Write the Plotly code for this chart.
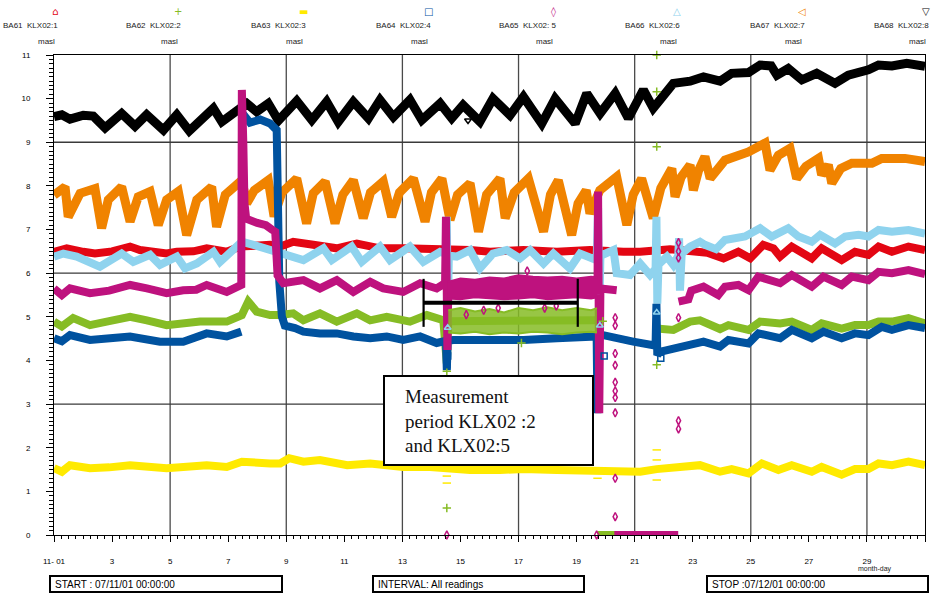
import plotly.graph_objects as go

# ---------------- readings: (day of November, level in masl) ----------------
klx1 = [(1.0, 6.49), (1.44, 6.57), (2.01, 6.49), (2.41, 6.45), (3.0, 6.5), (3.62, 6.61), (3.96, 6.53),
        (4.88, 6.45), (5.23, 6.49), (5.8, 6.5), (6.26, 6.57), (6.95, 6.49), (7.41, 6.61), (7.75, 6.62),
        (8.44, 6.65), (8.79, 6.61), (9.24, 6.72), (9.93, 6.65), (10.74, 6.57), (11.43, 6.68), (12.23, 6.57),
        (13.03, 6.57), (13.72, 6.57), (14.53, 6.53), (15.33, 6.53), (16.02, 6.49), (17.17, 6.53),
        (18.32, 6.49), (19.46, 6.53), (20.61, 6.49), (21.19, 6.49), (22.22, 6.55), (22.91, 6.49),
        (23.5, 6.47), (24.06, 6.34), (24.57, 6.49), (24.98, 6.34), (25.43, 6.65), (25.78, 6.57),
        (26.01, 6.38), (26.41, 6.61), (27.1, 6.34), (27.44, 6.57), (28.13, 6.30), (28.59, 6.49),
        (29.05, 6.42), (29.4, 6.61), (29.86, 6.49), (30.43, 6.61), (31.0, 6.53)]

klx2 = [(1.0, 4.89), (1.27, 4.78), (1.66, 4.97), (2.24, 4.81), (2.9, 4.9), (3.62, 5.0), (4.2, 4.92),
        (4.88, 4.81), (6.03, 4.89), (6.95, 4.89), (7.47, 5.04), (7.69, 5.35), (7.98, 5.12), (8.44, 5.04),
        (8.79, 5.04), (9.24, 5.08), (9.59, 4.92), (10.16, 5.08), (10.74, 4.89), (11.43, 5.08), (11.89, 4.92),
        (12.46, 5.0), (13.26, 4.89), (13.84, 5.04), (14.41, 4.92), (14.53, 3.93), (14.58, 4.9), (17.0, 4.92),
        (19.7, 4.92), (None, None), (19.72, 0.0), (20.33, 0.0), (None, None),
        (21.76, 4.73), (22.33, 4.7), (22.91, 4.89), (23.25, 4.92), (23.94, 4.72), (24.23, 4.81),
        (24.92, 4.7), (25.32, 4.89), (26.01, 4.85), (26.41, 4.89), (27.1, 4.7), (27.44, 4.85),
        (28.13, 4.73), (28.59, 4.81), (29.05, 4.81), (29.4, 4.89), (29.86, 4.89), (30.43, 4.97), (31.0, 4.85)]

klx3 = [(1.0, 1.53), (1.27, 1.45), (1.55, 1.6), (2.24, 1.53), (2.9, 1.55), (3.62, 1.6), (4.88, 1.53),
        (5.68, 1.56), (6.26, 1.6), (6.95, 1.56), (7.47, 1.68), (8.44, 1.64), (8.79, 1.64), (9.1, 1.76),
        (9.59, 1.68), (10.16, 1.72), (11.1, 1.6), (11.89, 1.64), (13.03, 1.56), (13.95, 1.56), (14.53, 1.53),
        (15.33, 1.49), (16.36, 1.49), (17.17, 1.51), (18.32, 1.49), (19.46, 1.49), (19.81, 1.45),
        (20.61, 1.45), (21.19, 1.45), (21.76, 1.51), (22.33, 1.56), (23.25, 1.6), (23.94, 1.45),
        (24.34, 1.51), (24.92, 1.41), (25.38, 1.64), (25.95, 1.49), (26.41, 1.6), (27.1, 1.45),
        (27.44, 1.56), (28.13, 1.38), (28.59, 1.51), (29.05, 1.51), (29.4, 1.64), (29.86, 1.6),
        (30.43, 1.68), (31.0, 1.6)]

klx4 = [(1.0, 4.51), (1.27, 4.44), (1.55, 4.58), (2.24, 4.47), (2.93, 4.51), (3.62, 4.55), (4.65, 4.43),
        (5.45, 4.43), (6.26, 4.62), (6.95, 4.55), (7.45, 4.66), (None, None),
        (7.45, 9.7), (7.75, 9.45), (8.1, 9.52), (8.44, 9.43), (8.67, 9.28), (8.7, 7.5), (8.76, 5.8),
        (8.85, 5.0), (8.95, 4.8), (9.3, 4.74), (9.59, 4.66), (10.16, 4.62), (10.74, 4.62), (11.31, 4.55),
        (11.89, 4.51), (12.46, 4.55), (13.03, 4.47), (13.61, 4.55), (14.18, 4.4), (14.5, 4.45),
        (14.53, 3.78), (14.56, 4.45), (14.75, 4.47), (15.33, 4.47), (15.91, 4.43), (16.36, 4.47),
        (17.17, 4.47), (18.32, 4.51), (19.46, 4.55), (19.69, 4.55), (19.72, 2.79), (19.76, 4.58),
        (19.92, 4.58), (20.61, 4.51), (20.95, 4.43), (21.64, 4.35), (21.72, 4.35), (21.75, 5.3),
        (21.78, 4.12), (21.87, 4.2), (22.33, 4.28), (22.91, 4.39), (23.37, 4.43), (23.94, 4.32),
        (24.23, 4.47), (24.92, 4.39), (25.26, 4.62), (26.01, 4.51), (26.41, 4.7), (27.1, 4.51),
        (27.5, 4.66), (28.13, 4.51), (28.59, 4.62), (29.05, 4.58), (29.51, 4.77), (29.86, 4.7),
        (30.43, 4.81), (31.0, 4.74)]

klx5 = [(1.0, 5.65), (1.27, 5.5), (1.55, 5.65), (2.24, 5.54), (2.9, 5.6), (3.62, 5.73), (4.2, 5.65),
        (4.88, 5.54), (5.45, 5.61), (5.9, 5.62), (6.26, 5.73), (6.95, 5.57), (7.45, 5.73), (7.47, 10.2),
        (7.52, 9.0), (7.56, 7.6), (7.62, 7.25), (8.0, 7.15), (8.3, 7.1), (8.5, 7.0), (8.62, 6.95),
        (8.7, 5.95), (8.9, 5.77), (9.59, 5.84), (10.16, 5.65), (10.74, 5.84), (11.31, 5.57), (11.89, 5.8),
        (12.34, 5.65), (13.03, 5.57), (13.61, 5.77), (14.18, 5.65), (14.47, 5.77), (14.5, 7.29),
        (14.55, 4.24), (14.58, 5.6), (17.0, 5.65), (19.72, 5.6), (19.74, 7.87), (19.78, 2.79),
        (19.82, 5.65), (20.38, 5.61), (None, None), (20.3, 0.0), (22.5, 0.0), (None, None),
        (22.51, 5.35), (22.85, 5.4), (22.95, 5.6), (23.37, 5.69), (23.88, 5.5), (24.11, 5.69),
        (24.57, 5.73), (24.92, 5.61), (25.26, 5.92), (25.72, 5.84), (26.01, 5.77), (26.41, 5.96),
        (26.76, 5.84), (27.1, 5.69), (27.5, 5.92), (28.13, 5.73), (28.48, 5.92), (29.05, 5.84),
        (29.4, 6.03), (29.86, 6.0), (30.43, 6.07), (31.0, 5.98)]

klx6 = [(1.0, 6.38), (1.32, 6.45), (1.78, 6.38), (2.58, 6.15), (3.33, 6.45), (3.73, 6.26), (4.31, 6.42),
        (4.65, 6.19), (5.23, 6.38), (5.51, 6.11), (5.92, 6.22), (6.49, 6.49), (6.72, 6.26), (7.47, 6.72),
        (7.87, 6.65), (8.44, 6.53), (8.79, 6.5), (9.59, 6.3), (10.28, 6.57), (10.57, 6.3), (11.25, 6.61),
        (11.6, 6.26), (12.23, 6.61), (12.57, 6.3), (13.26, 6.61), (13.72, 6.26), (14.3, 6.49), (14.5, 6.45),
        (14.53, 7.29), (14.56, 4.9), (14.6, 6.4), (14.87, 6.38), (15.33, 6.53), (15.67, 6.11), (16.12, 6.45),
        (16.59, 6.53), (17.05, 6.34), (17.4, 6.53), (17.86, 6.22), (18.2, 6.45), (18.77, 6.11),
        (19.12, 6.45), (19.69, 6.3), (19.74, 7.5), (19.78, 5.0), (19.82, 6.4), (20.27, 6.53), (20.38, 6.0),
        (20.84, 5.96), (21.19, 6.22), (21.53, 5.96), (21.72, 6.1), (21.75, 7.29), (21.78, 5.3),
        (21.82, 6.2), (22.11, 6.38), (22.33, 6.19), (22.5, 6.4), (22.53, 6.8), (22.56, 5.6), (22.62, 6.45),
        (22.91, 6.61), (23.25, 6.72), (23.42, 6.65), (23.8, 6.55), (24.11, 6.76), (24.8, 6.84),
        (25.32, 7.03), (25.72, 6.84), (26.29, 7.03), (26.64, 6.84), (27.1, 6.72), (27.39, 6.88),
        (27.9, 6.68), (28.25, 6.84), (28.71, 6.88), (29.05, 6.84), (29.4, 6.99), (29.86, 6.95),
        (30.43, 6.99), (31.0, 6.91)]

klx7 = [(1.0, 7.79), (1.38, 7.98), (1.49, 7.29), (1.9, 7.83), (2.41, 7.94), (2.64, 7.03), (2.87, 7.68),
        (3.33, 7.98), (3.62, 7.18), (3.9, 7.75), (4.31, 7.87), (4.59, 7.1), (4.88, 7.68), (5.28, 7.87),
        (5.57, 6.87), (5.92, 7.68), (6.43, 7.98), (6.6, 7.06), (6.9, 7.8), (7.47, 8.13), (7.64, 7.6),
        (7.9, 7.9), (8.38, 8.13), (8.58, 7.3), (8.85, 7.85), (9.36, 8.17), (9.7, 7.14), (9.93, 7.83),
        (10.34, 8.1), (10.68, 7.14), (10.95, 7.8), (11.31, 8.13), (11.65, 7.26), (11.9, 7.85),
        (12.34, 8.1), (12.63, 7.29), (12.9, 7.85), (13.38, 8.17), (13.78, 7.18), (14.0, 7.85),
        (14.36, 8.17), (14.64, 7.22), (14.9, 7.8), (15.33, 8.06), (15.62, 6.95), (15.9, 7.8),
        (16.36, 8.17), (16.54, 7.26), (16.85, 7.85), (17.34, 8.17), (17.86, 6.95), (18.1, 7.8),
        (18.37, 8.13), (18.83, 6.87), (19.05, 7.6), (19.33, 7.9), (19.46, 7.37), (19.8, 7.9),
        (20.38, 8.21), (20.73, 7.1), (20.95, 7.8), (21.24, 8.17), (21.64, 7.26), (21.9, 7.95),
        (22.28, 8.4), (22.39, 7.75), (22.6, 8.2), (22.91, 8.48), (23.02, 7.9), (23.2, 8.35),
        (23.42, 8.67), (23.6, 8.17), (24.11, 8.59), (24.92, 8.78), (25.49, 8.98), (25.66, 8.36),
        (25.95, 8.7), (26.35, 8.86), (26.58, 8.17), (26.9, 8.45), (27.33, 8.63), (27.44, 8.25),
        (27.67, 8.48), (27.79, 8.06), (28.1, 8.4), (28.48, 8.52), (29.17, 8.52), (29.51, 8.63),
        (30.31, 8.63), (31.0, 8.56)]

klx8 = [(1.0, 9.59), (1.27, 9.63), (1.55, 9.53), (2.01, 9.62), (2.35, 9.6), (2.76, 9.33), (3.33, 9.66),
        (3.79, 9.37), (4.19, 9.63), (4.77, 9.28), (5.23, 9.63), (5.66, 9.26), (6.49, 9.78), (6.78, 9.47),
        (7.64, 9.89), (7.98, 9.70), (8.38, 9.89), (8.73, 9.5), (9.36, 9.95), (9.88, 9.51), (10.39, 9.93),
        (10.79, 9.47), (11.31, 9.93), (11.83, 9.55), (12.23, 9.97), (12.69, 9.58), (13.26, 9.97),
        (13.67, 9.51), (14.3, 9.89), (14.7, 9.55), (15.09, 9.85), (15.67, 9.47), (16.12, 10.0),
        (16.71, 9.62), (17.17, 10.04), (17.8, 9.43), (18.26, 10.0), (18.95, 9.43), (19.35, 10.12),
        (19.81, 9.66), (20.33, 10.12), (20.78, 9.55), (21.3, 10.2), (21.64, 9.78), (22.33, 10.35),
        (22.91, 10.4), (23.37, 10.5), (23.94, 10.4), (24.34, 10.58), (24.92, 10.6), (25.32, 10.77),
        (25.7, 10.75), (25.9, 10.54), (26.29, 10.69), (26.76, 10.43), (27.27, 10.58), (27.9, 10.35),
        (28.36, 10.54), (29.05, 10.66), (29.4, 10.77), (29.86, 10.75), (30.37, 10.81), (31.0, 10.74)]

# scattered single readings
klx2_out = [(14.53, 0.62), (14.53, 3.75), (21.76, 11.0), (21.76, 10.16), (21.76, 8.9), (21.76, 3.9),
            (17.1, 4.4), (19.9, 4.9)]
klx3_out = [(14.53, 1.19), (14.53, 1.35), (19.72, 1.3), (21.76, 1.95), (21.76, 1.72), (21.76, 1.26)]
klx4_out = [(14.53, 3.9), (14.56, 4.1), (19.95, 4.1), (21.9, 4.05)]
klx5_out = [(14.53, 0.0), (19.69, 0.0), (15.2, 5.05), (15.8, 5.15), (16.3, 5.2), (17.9, 5.2), (18.3, 5.25),
            (17.3, 6.05), (20.33, 4.98), (20.33, 4.8), (20.33, 4.16), (20.33, 3.89), (20.33, 3.5),
            (20.33, 3.3), (20.33, 3.15), (20.33, 2.8), (20.33, 1.3), (20.33, 0.42), (22.51, 6.7),
            (22.51, 6.5), (22.51, 6.35), (22.51, 4.98), (22.51, 2.62), (22.51, 2.43)]
klx6_out = [(14.56, 4.75), (19.8, 4.8), (21.76, 5.1)]
klx8_out = [(15.26, 9.5)]

# dense scatter envelope during the measurement period
klx5_band_day = [14.56, 15.0, 15.5, 16.0, 16.5, 17.0, 17.5, 18.0, 18.5, 19.0, 19.5, 19.72]
klx5_band_high = [5.8, 5.88, 5.85, 5.9, 5.88, 5.95, 5.92, 5.9, 5.92, 5.88, 5.92, 5.9]
klx5_band_low = [5.42, 5.4, 5.45, 5.42, 5.4, 5.42, 5.45, 5.4, 5.42, 5.45, 5.42, 5.45]
klx2_band_day = [14.58, 15.0, 15.5, 16.0, 16.5, 17.0, 17.5, 18.0, 18.5, 19.0, 19.5, 19.7]
klx2_band_high = [5.15, 5.2, 5.12, 5.18, 5.1, 5.2, 5.15, 5.22, 5.15, 5.2, 5.15, 5.2]
klx2_band_low = [4.64, 4.62, 4.66, 4.6, 4.64, 4.62, 4.66, 4.64, 4.6, 4.64, 4.66, 4.64]

period_start, period_end = 13.73, 19.04
period_level, period_low, period_high = 5.32, 4.77, 5.87

header_labels = ["BA61\u00a0 KLX02:1", "BA62\u00a0 KLX02:2", "BA63\u00a0 KLX02:3", "BA64\u00a0 KLX02:4",
                 "BA65\u00a0 KLX02: 5", "BA66\u00a0 KLX02:6", "BA67\u00a0 KLX02:7", "BA68\u00a0 KLX02:8"]
header_glyphs = ["\u2302", "+", "\u25ac", "\u25a1", "\u25ca", "\u25b3", "\u25c1", "\u25bd"]
x_tick_alias = {1: "11- 01", 31: "12-01"}

# ---------------- styles ----------------
COL = {1: "#E30613", 2: "#86BC25", 3: "#FFEA00", 4: "#00529F", 5: "#BE127E",
       6: "#8FD3EE", 7: "#F08300", 8: "#000000"}
SYM = {2: "cross-thin-open", 3: "line-ew-open", 4: "square-open", 5: "diamond-tall-open",
       6: "triangle-up-open", 8: "triangle-down-open"}
SANS = "Liberation Sans, Arial, sans-serif"

W, H = 933, 599
L, R, T, B = 54, 8, 55, 64
PW, PH = W - L - R, H - T - B


def px_x(px):
    return (px - L) / PW


def px_y(py):
    return (H - B - py) / PH


def unzip(pairs):
    return [p[0] for p in pairs], [p[1] for p in pairs]


fig = go.Figure()

main = {1: klx1, 2: klx2, 3: klx3, 4: klx4, 5: klx5, 6: klx6, 7: klx7, 8: klx8}
order = [8, 7, 1, 6, 3, 2, 4, 5]
for k in order:
    xs, ys = unzip(main[k])
    w = 9 if k in (7, 8) else 8
    fig.add_trace(go.Scatter(x=xs, y=ys, mode="lines", line=dict(color=COL[k], width=w),
                             hoverinfo="skip", showlegend=False))

# measurement-period scatter envelopes
for k, bx, lo, hi, fc in [(2, klx2_band_day, klx2_band_low, klx2_band_high, "rgba(134,188,37,0.85)"),
                          (5, klx5_band_day, klx5_band_low, klx5_band_high, COL[5])]:
    fig.add_trace(go.Scatter(x=bx, y=lo, mode="lines", line=dict(color=COL[k], width=2),
                             hoverinfo="skip", showlegend=False))
    fig.add_trace(go.Scatter(x=bx, y=hi, mode="lines", line=dict(color=COL[k], width=2),
                             fill="tonexty", fillcolor=fc, hoverinfo="skip", showlegend=False))

for k, pts in [(2, klx2_out), (3, klx3_out), (4, klx4_out), (5, klx5_out), (6, klx6_out), (8, klx8_out)]:
    xs, ys = unzip(pts)
    fig.add_trace(go.Scatter(x=xs, y=ys, mode="markers", cliponaxis=False,
                             marker=dict(symbol=SYM[k], size=6, color=COL[k],
                                         line=dict(color=COL[k], width=1.5)),
                             hoverinfo="skip", showlegend=False))

shapes = []
# grid
for d in range(5, 31, 4):
    shapes.append(dict(type="line", xref="x", yref="y", x0=d, x1=d, y0=0, y1=11, layer="below",
                       line=dict(color="#4a4a4a", width=1.3)))
for v in (3, 6, 9):
    shapes.append(dict(type="line", xref="x", yref="y", x0=1, x1=31, y0=v, y1=v, layer="below",
                       line=dict(color="#3a3a3a", width=1.3)))
# measurement period bracket
shapes.append(dict(type="line", xref="x", yref="y", x0=period_start, x1=period_end,
                   y0=period_level, y1=period_level, line=dict(color="black", width=4), layer="above"))
for xb in (period_start, period_end):
    shapes.append(dict(type="line", xref="x", yref="y", x0=xb, x1=xb, y0=period_low, y1=period_high,
                       line=dict(color="black", width=2.2), layer="above"))
# text box
shapes.append(dict(type="rect", xref="paper", yref="paper", x0=px_x(384), x1=px_x(593),
                   y0=px_y(465), y1=px_y(376), fillcolor="white", line=dict(color="black", width=2),
                   layer="above"))
# footer boxes
for x0, x1 in [(50, 282), (373, 584), (707, 928)]:
    shapes.append(dict(type="rect", xref="paper", yref="paper", x0=px_x(x0), x1=px_x(x1),
                       y0=px_y(592), y1=px_y(576), line=dict(color="black", width=2),
                       fillcolor="white"))

ann = []
rights = [60, 183, 308, 433, 558, 682, 807, 931]
for i, (lab, g) in enumerate(zip(header_labels, header_glyphs)):
    r = rights[i]
    ann.append(dict(x=px_x(r - 5), y=px_y(12), xref="paper", yref="paper", text=g, showarrow=False,
                    font=dict(size=10, color=COL[i + 1], family="DejaVu Sans"),
                    xanchor="center", yanchor="middle"))
    ann.append(dict(x=px_x(r), y=px_y(25), xref="paper", yref="paper", text=lab, showarrow=False,
                    font=dict(size=8, color="#222", family=SANS), xanchor="right", yanchor="middle"))
    ann.append(dict(x=px_x(r - 3), y=px_y(42), xref="paper", yref="paper", text="masl", showarrow=False,
                    font=dict(size=8, color="#222", family=SANS), xanchor="right", yanchor="middle"))

ann.append(dict(x=px_x(403), y=px_y(421), xref="paper", yref="paper",
                text="Measurement<br>period KLX02 :2<br>and KLX02:5", showarrow=False, align="left",
                font=dict(size=19, color="#111", family="Liberation Serif, Times New Roman, serif"),
                xanchor="left", yanchor="middle"))
for x0, txt in [(53, "START : 07/11/01 00:00:00"), (376, "INTERVAL: All readings"),
                (710, "STOP :07/12/01 00:00:00")]:
    ann.append(dict(x=px_x(x0), y=px_y(584), xref="paper", yref="paper", text=txt, showarrow=False,
                    font=dict(size=10, color="black", family=SANS), xanchor="left", yanchor="middle"))
ann.append(dict(x=px_x(875), y=px_y(569), xref="paper", yref="paper", text="month-day", showarrow=False,
                font=dict(size=7, color="#222", family=SANS), xanchor="center", yanchor="middle"))

fig.update_layout(
    width=W, height=H, margin=dict(l=L, r=R, t=T, b=B),
    paper_bgcolor="white", plot_bgcolor="white",
    font=dict(family=SANS, size=8, color="black"),
    showlegend=False, shapes=shapes, annotations=ann,
    xaxis=dict(range=[1, 31], tickmode="linear", tick0=1, dtick=2, labelalias=x_tick_alias,
               ticks="outside", ticklen=6, tickwidth=1, tickcolor="black",
               minor=dict(dtick=0.25, tick0=1, ticks="outside", ticklen=3, tickcolor="black",
                          showgrid=False),
               showgrid=False, zeroline=False, showline=True, linecolor="black", linewidth=1,
               mirror=True, tickfont=dict(size=8, family=SANS), ticklabelstandoff=12),
    yaxis=dict(range=[0, 11], tickmode="linear", tick0=0, dtick=1,
               ticks="outside", ticklen=7, tickwidth=1, tickcolor="black",
               minor=dict(dtick=0.1, ticks="outside", ticklen=4, tickcolor="black", showgrid=False),
               showgrid=False, zeroline=False, showline=True, linecolor="black", linewidth=1,
               mirror=True, tickfont=dict(size=8, family=SANS), ticklabelstandoff=14),
)

fig.write_html("out.html", config={"displayModeBar": False, "staticPlot": True},
               post_script="document.body.style.margin='0';document.body.style.overflow='hidden';")
